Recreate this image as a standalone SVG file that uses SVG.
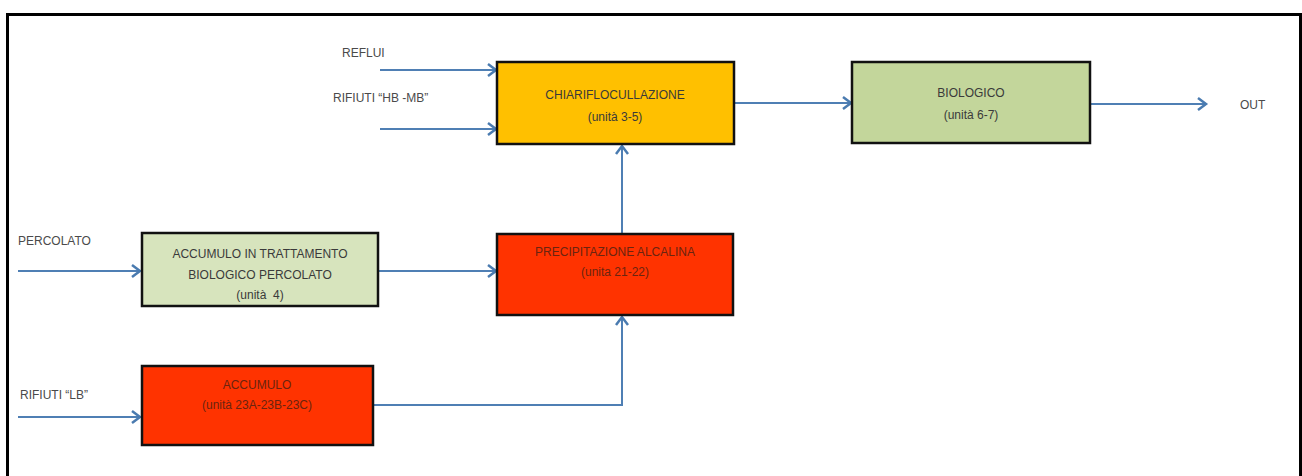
<svg xmlns="http://www.w3.org/2000/svg" width="1302" height="476" viewBox="0 0 1302 476">
<defs>
<marker id="arr" markerUnits="userSpaceOnUse" markerWidth="14" markerHeight="16" refX="10" refY="7" orient="auto">
<path d="M2,1 L10,7 L2,13" fill="none" stroke="#4a7bb0" stroke-width="2.5"/>
</marker>
<style>
.box{stroke:#111;stroke-width:2.5}
.t{font-family:"Liberation Sans",Arial,sans-serif;font-size:12px;fill:#3a3a3a;text-anchor:middle}
.tr{font-family:"Liberation Sans",Arial,sans-serif;font-size:12px;fill:#6a2410;text-anchor:middle}
.l{font-family:"Liberation Sans",Arial,sans-serif;font-size:12px;fill:#4a4a4a}
.c{fill:none;stroke:#4f7fb4;stroke-width:2}
</style>
</defs>
<rect width="1302" height="476" fill="#fff"/>
<path d="M7.5,480 V14.5 H1300.5 V480" fill="none" stroke="#000" stroke-width="3"/>
<g id="connectors">
<path class="c" d="M380,70 H496" marker-end="url(#arr)"/>
<path class="c" d="M380,129 H496" marker-end="url(#arr)"/>
<path class="c" d="M735,103 H851" marker-end="url(#arr)"/>
<path class="c" d="M1090,104 H1206" marker-end="url(#arr)"/>
<path class="c" d="M18,271 H140" marker-end="url(#arr)"/>
<path class="c" d="M378,271 H496" marker-end="url(#arr)"/>
<path class="c" d="M622,233 V146" marker-end="url(#arr)"/>
<path class="c" d="M18,417 H140" marker-end="url(#arr)"/>
<path class="c" d="M373,405 H622 V317" marker-end="url(#arr)"/>
</g>
<g id="label-reflui"><text class="l" x="342" y="57">REFLUI</text></g>
<g id="label-rifiuti-hb"><text class="l" x="333" y="102">RIFIUTI “HB -MB”</text></g>
<g id="label-out"><text class="l" x="1240" y="109">OUT</text></g>
<g id="label-percolato"><text class="l" x="18" y="245">PERCOLATO</text></g>
<g id="label-rifiuti-lb"><text class="l" x="20" y="399">RIFIUTI “LB”</text></g>
<g id="chiari">
<rect class="box" x="497" y="62" width="237" height="82" fill="#ffc000"/>
<text class="t" x="615" y="99">CHIARIFLOCULLAZIONE</text>
<text class="t" x="615" y="121">(unità 3-5)</text>
</g>
<g id="biologico">
<rect class="box" x="852" y="62" width="238" height="81" fill="#c3d69b"/>
<text class="t" x="971" y="97">BIOLOGICO</text>
<text class="t" x="971" y="119">(unità 6-7)</text>
</g>
<g id="accumulo-percolato">
<rect class="box" x="142" y="233" width="236" height="73" fill="#d7e4bd"/>
<text class="t" x="260" y="258">ACCUMULO IN TRATTAMENTO</text>
<text class="t" x="260" y="279">BIOLOGICO PERCOLATO</text>
<text class="t" x="260" y="299" xml:space="preserve">(unità  4)</text>
</g>
<g id="precipitazione">
<rect class="box" x="497" y="234" width="236" height="81" fill="#ff3300"/>
<text class="tr" x="615" y="256">PRECIPITAZIONE ALCALINA</text>
<text class="tr" x="615" y="276">(unita 21-22)</text>
</g>
<g id="accumulo-lb">
<rect class="box" x="142" y="366" width="231" height="79" fill="#ff3300"/>
<text class="tr" x="257" y="389">ACCUMULO</text>
<text class="tr" x="257" y="409">(unità 23A-23B-23C)</text>
</g>
</svg>
